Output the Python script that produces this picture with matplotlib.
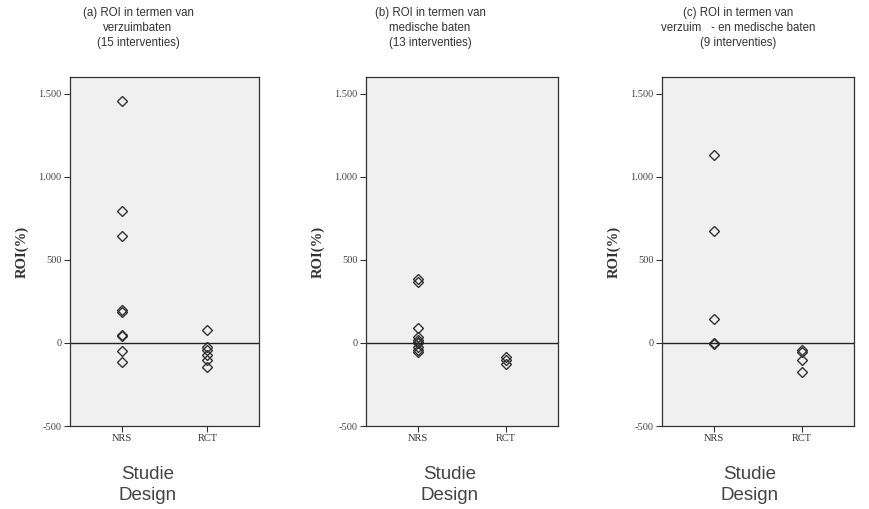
import matplotlib.pyplot as plt
import matplotlib.ticker as mticker

# ROI (%) per intervention
designs = ["NRS", "RCT"]

roi_a_nrs = [1456, 791, 644, 195, 185, 48, 42, -50, -115]
roi_a_rct = [75, -22, -40, -70, -100, -143]

roi_b_nrs = [382, 365, 87, 36, 20, 8, 0, -25, -40, -52]
roi_b_rct = [-85, -105, -125]

roi_c_nrs = [1128, 675, 141, 2, -8]
roi_c_rct = [-40, -55, -100, -175]

titles = [
    "(a) ROI in termen van\nverzuimbaten\n(15 interventies)",
    "(b) ROI in termen van\nmedische baten\n(13 interventies)",
    "(c) ROI in termen van\nverzuim   - en medische baten\n(9 interventies)",
]
yticks = [-500, 0, 500, 1000, 1500]

panels = [(roi_a_nrs, roi_a_rct), (roi_b_nrs, roi_b_rct), (roi_c_nrs, roi_c_rct)]
lefts = [70, 366, 662]
widths = [189, 192, 192]
title_x = [138, 430, 738]
label_x = [148, 450, 750]

W, H = 870, 509
fig = plt.figure(figsize=(8.7, 5.09), dpi=100)

sans = ["Liberation Sans", "DejaVu Sans"]
serif = ["Liberation Serif", "DejaVu Serif"]

for i, (nrs, rct) in enumerate(panels):
    ax = fig.add_axes([lefts[i] / W, 1 - 426 / H, widths[i] / W, (426 - 77) / H])
    ax.set_facecolor("#f0f0f0")
    ax.plot([0] * len(nrs), nrs, linestyle="none", marker="D", markersize=5.5,
            markerfacecolor="none", markeredgecolor="#333333", markeredgewidth=1.0)
    ax.plot([1] * len(rct), rct, linestyle="none", marker="D", markersize=5.5,
            markerfacecolor="none", markeredgecolor="#333333", markeredgewidth=1.0)
    ax.axhline(0, color="#222222", linewidth=1.0)
    ax.set_xlim(-0.6, 1.6)
    ax.set_ylim(-500, 1600)
    ax.set_xticks([0, 1])
    ax.set_xticklabels(designs, fontfamily=serif, fontsize=7.5, color="#333333")
    ax.set_yticks(yticks)
    ax.yaxis.set_major_formatter(mticker.FuncFormatter(
        lambda v, p: f"{int(v):,}".replace(",", ".")))
    for lbl in ax.get_yticklabels():
        lbl.set_fontfamily(serif)
        lbl.set_fontsize(7.5)
        lbl.set_color("#444444")
    ax.tick_params(direction="out", length=4, width=0.8, color="#333333", pad=2)
    for sp in ax.spines.values():
        sp.set_color("#333333")
        sp.set_linewidth(0.9)
    ax.set_ylabel("ROI(%)", fontfamily=serif, fontweight="bold", fontsize=10.5,
                  color="#333333", labelpad=7)

    fig.text(title_x[i] / W, 1 - 7 / H, titles[i], ha="center", va="top",
             fontsize=8.3, fontfamily=sans, color="#333333", linespacing=1.35)
    fig.text(label_x[i] / W, 1 - 466 / H, "Studie\nDesign", ha="center", va="top",
             fontsize=13.5, fontfamily=sans, color="#444444", linespacing=1.3)

fig.savefig("out.png", dpi=100, facecolor="white")
